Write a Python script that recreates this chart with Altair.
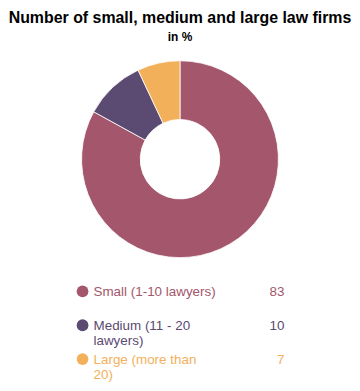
import altair as alt
import pandas as pd

categories = ["Small (1-10 lawyers)", "Medium (11 - 20 lawyers)", "Large (more than 20)"]
wrapped_labels = ["Small (1-10 lawyers)", "Medium (11 - 20\nlawyers)", "Large (more than\n20)"]
values = [83, 10, 7]
colors = ["#a3566c", "#5b4a71", "#f2b05b"]
order = [0, 1, 2]

FONT = "Arial"

df = pd.DataFrame({"category": categories, "label": wrapped_labels, "value": values, "order": order})

color = alt.Color("category:N", scale=alt.Scale(domain=categories, range=colors), legend=None)

donut = alt.Chart(df).mark_arc(innerRadius=40, outerRadius=99, stroke="#ffffff", strokeWidth=0.8).encode(
    theta=alt.Theta("value:Q", stack=True),
    order=alt.Order("order:Q"),
    color=color,
).properties(width=344, height=210)

ybase = alt.Y("category:N", sort=categories, axis=None, scale=alt.Scale(type="point", padding=0))
legend_base = alt.Chart(df).encode(y=ybase, color=color)
dots = legend_base.mark_circle(size=140, opacity=1).encode(x=alt.value(74))
labels = legend_base.mark_text(align="left", baseline="alphabetic", dy=5, fontSize=13.5,
                               lineBreak="\n", lineHeight=15, font=FONT).encode(
    x=alt.value(85), text="label:N")
vals = legend_base.mark_text(align="right", baseline="alphabetic", dy=5, fontSize=13.5, font=FONT).encode(
    x=alt.value(277), text="value:Q")
legend = alt.layer(dots, labels, vals).properties(width=344, height=68)

chart = alt.vconcat(donut, legend, spacing=22).properties(
    title=alt.Title("Number of small, medium and large law firms", subtitle="in %",
                    fontSize=16, font=FONT, fontWeight="bold", color="#000000",
                    subtitleFontSize=12, subtitleFont=FONT, subtitleFontWeight="bold",
                    subtitleColor="#000000", subtitlePadding=6, anchor="middle", offset=12),
    padding={"left": 0, "right": 0, "top": 1, "bottom": 0},
).configure_view(stroke=None)

chart.save("out.html", embed_options={"renderer": "svg", "actions": False})
